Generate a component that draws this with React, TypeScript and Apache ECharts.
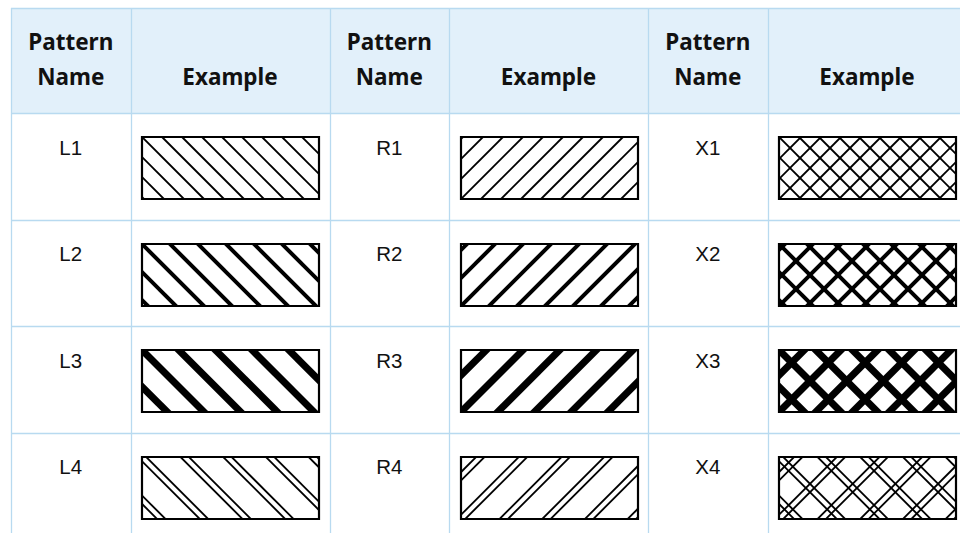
import React, { useEffect, useRef } from "react";
import * as echarts from "echarts";

// ---- table content ----
const groupCodes = ["L", "R", "X"];
const levelCodes = ["1", "2", "3", "4"];
const headerNameLines = ["Pattern", "Name"];
const headerExample = "Example";

// ---- pattern geometry (per level 1..4) ----
const periodByLevel = [20, 28, 36.7, 42.7]; // horizontal period of stripes
const stripeByLevel = [2.7, 5.6, 10, 2.6]; // horizontal width of each stripe
const doubleByLevel = [0, 0, 0, 1]; // 1 = pair of thin lines

// ---- layout ----
const W = 960;
const H = 533;
const tableLeft = 11;
const tableTop = 8;
const nameColW = 119.5;
const exampleColW = 199;
const headerH = 105;
const rowH = 106.6;
const swatchDx = 11.5;
const swatchDy = 24;
const swatchW = 177;
const swatchH = 62;

const borderColor = "#b8daf0";
const headerBg = "#e2f0fa";
const headerFont = '"Noto Sans", sans-serif';
const bodyFont = '"Liberation Sans", Arial, sans-serif';

type Pt = [number, number];

function clipHalf(poly: Pt[], f: (p: Pt) => number, limit: number, keepLess: boolean): Pt[] {
  const out: Pt[] = [];
  const inside = (p: Pt) => (keepLess ? f(p) <= limit : f(p) >= limit);
  for (let i = 0; i < poly.length; i++) {
    const a = poly[i];
    const b = poly[(i + 1) % poly.length];
    const ia = inside(a);
    const ib = inside(b);
    if (ia) out.push(a);
    if (ia !== ib) {
      const fa = f(a);
      const fb = f(b);
      const t = (limit - fa) / (fb - fa);
      out.push([a[0] + (b[0] - a[0]) * t, a[1] + (b[1] - a[1]) * t]);
    }
  }
  return out;
}

function stripes(x0: number, y0: number, x1: number, y1: number, dir: string, lvl: number) {
  const rect: Pt[] = [
    [x0, y0],
    [x1, y0],
    [x1, y1],
    [x0, y1],
  ];
  const f = dir === "L" ? (p: Pt) => p[0] - p[1] : (p: Pt) => p[0] + p[1];
  const c0 = dir === "L" ? x0 - y0 : x0 + y1;
  const fmin = dir === "L" ? x0 - y1 : x0 + y0;
  const fmax = dir === "L" ? x1 - y0 : x1 + y1;
  const p = periodByLevel[lvl];
  const half = stripeByLevel[lvl] / 2;
  const offsets = doubleByLevel[lvl] ? [-4.2, 4.2] : [0];
  const polys: Pt[][] = [];
  const kMin = Math.floor((fmin - c0) / p) - 2;
  const kMax = Math.ceil((fmax - c0) / p) + 2;
  for (let k = kMin; k <= kMax; k++) {
    for (const off of offsets) {
      const c = c0 + k * p + off;
      let poly = clipHalf(rect, f, c + half, true);
      if (poly.length < 3) continue;
      poly = clipHalf(poly, f, c - half, false);
      if (poly.length < 3) continue;
      polys.push(poly);
    }
  }
  return polys;
}

const swatchData: number[][] = [];
groupCodes.forEach((_, g) => levelCodes.forEach((__, l) => swatchData.push([g, l])));

export default function App() {
  const ref = useRef<HTMLDivElement>(null);
  useEffect(() => {
    document.body.style.margin = "0";
    if (!ref.current) return;
    const chart = echarts.init(ref.current, undefined, { renderer: "svg" });
    const colLeft = (i: number) =>
      tableLeft + Math.floor(i / 2) * (nameColW + exampleColW) + (i % 2 ? nameColW : 0);
    const colW = (i: number) => (i % 2 ? exampleColW : nameColW);

    const option: any = {
      animation: false,
      grid: { left: 0, right: 0, top: 0, bottom: 0 },
      xAxis: { type: "value", min: 0, max: W, show: false },
      yAxis: { type: "value", min: 0, max: H, inverse: true, show: false },
      series: [
        {
          type: "custom",
          name: "table",
          data: [[0, 0]],
          silent: true,
          renderItem: (params: any, api: any) => {
            const children: any[] = [];
            const tl = api.coord([tableLeft, tableTop]);
            const br = api.coord([W, tableTop + headerH]);
            children.push({
              type: "rect",
              shape: { x: tl[0], y: tl[1], width: br[0] - tl[0], height: br[1] - tl[1] },
              style: { fill: headerBg },
            });
            const bottom = api.coord([0, H + 10])[1];
            // vertical borders
            for (let i = 0; i <= 6; i++) {
              const x = Math.round(api.coord([colLeft(i), 0])[0]) + 0.5;
              children.push({
                type: "line",
                shape: { x1: x, y1: tl[1], x2: x, y2: bottom },
                style: { stroke: borderColor, lineWidth: 1.3 },
              });
            }
            // horizontal borders
            for (let r = 0; r <= 4; r++) {
              const yv = r === 0 ? tableTop : tableTop + headerH + (r - 1) * rowH;
              const y = Math.round(api.coord([0, yv])[1]) + 0.5;
              children.push({
                type: "line",
                shape: { x1: tl[0], y1: y, x2: W + 10, y2: y },
                style: { stroke: borderColor, lineWidth: 1.3 },
              });
            }
            // header texts
            for (let i = 0; i < 6; i++) {
              const cx = colLeft(i) + colW(i) / 2;
              if (i % 2 === 0) {
                headerNameLines.forEach((t, j) => {
                  const pt = api.coord([cx, tableTop + 33 + j * 35]);
                  children.push({
                    type: "text",
                    style: {
                      text: t,
                      x: pt[0],
                      y: pt[1],
                      align: "center",
                      verticalAlign: "middle",
                      fontFamily: headerFont,
                      fontWeight: "bold",
                      fontSize: 22.5,
                      fill: "#111111",
                    },
                  });
                });
              } else {
                const pt = api.coord([cx, tableTop + 68]);
                children.push({
                  type: "text",
                  style: {
                    text: headerExample,
                    x: pt[0],
                    y: pt[1],
                    align: "center",
                    verticalAlign: "middle",
                    fontFamily: headerFont,
                    fontWeight: "bold",
                    fontSize: 22.5,
                    fill: "#111111",
                  },
                });
              }
            }
            // body name labels
            groupCodes.forEach((g, gi) => {
              levelCodes.forEach((l, li) => {
                const cx = colLeft(gi * 2) + nameColW / 2;
                const pt = api.coord([cx, tableTop + headerH + li * rowH + 34]);
                children.push({
                  type: "text",
                  style: {
                    text: g + l,
                    x: pt[0],
                    y: pt[1],
                    align: "center",
                    verticalAlign: "middle",
                    fontFamily: bodyFont,
                    fontSize: 20.5,
                    fill: "#111111",
                  },
                });
              });
            });
            return { type: "group", children };
          },
        },
        {
          type: "custom",
          name: "swatches",
          data: swatchData,
          silent: true,
          renderItem: (params: any, api: any) => {
            const g = api.value(0);
            const l = api.value(1);
            const cellX = colLeft(g * 2 + 1);
            const cellY = tableTop + headerH + l * rowH;
            const a = api.coord([cellX + swatchDx, cellY + swatchDy]);
            const b = api.coord([cellX + swatchDx + swatchW, cellY + swatchDy + swatchH]);
            const x0 = Math.round(a[0]);
            const y0 = Math.round(a[1]);
            const x1 = Math.round(b[0]);
            const y1 = Math.round(b[1]);
            const code = groupCodes[g];
            const dirs = code === "X" ? ["L", "R"] : [code];
            const children: any[] = [
              {
                type: "rect",
                shape: { x: x0, y: y0, width: x1 - x0, height: y1 - y0 },
                style: { fill: "#ffffff" },
              },
            ];
            dirs.forEach((d) => {
              stripes(x0, y0, x1, y1, d, l).forEach((poly) => {
                children.push({ type: "polygon", shape: { points: poly }, style: { fill: "#000000" } });
              });
            });
            children.push({
              type: "rect",
              shape: { x: x0, y: y0, width: x1 - x0, height: y1 - y0 },
              style: { fill: "none", stroke: "#000000", lineWidth: 2.2 },
            });
            return { type: "group", children };
          },
        },
      ],
    };
    chart.setOption(option);
    return () => chart.dispose();
  }, []);
  return <div ref={ref} style={{ width: W, height: H }} />;
}
